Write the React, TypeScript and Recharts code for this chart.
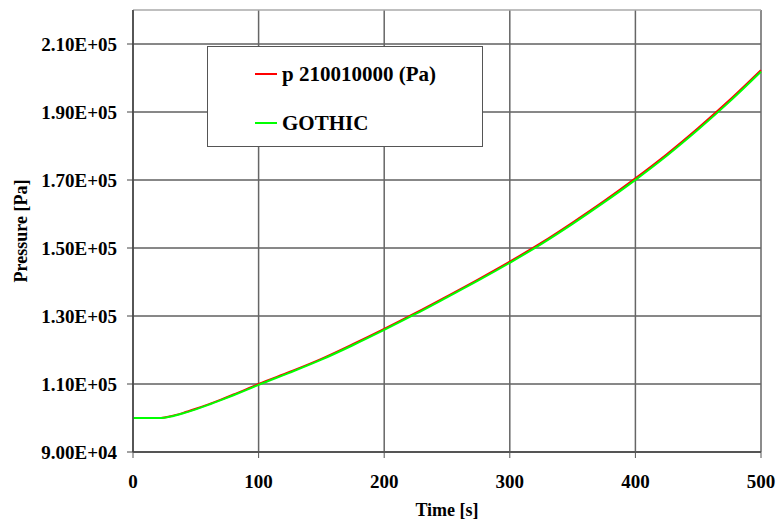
import { LineChart, Line, XAxis, YAxis, CartesianGrid, ReferenceLine } from 'recharts';

const FONT = '"Liberation Serif", "Times New Roman", serif';

// time [s]
const times = [0, 10, 20, 25, 30, 40, 50, 60, 70, 80, 90, 100, 125, 150, 175, 200, 225, 250, 275, 300, 325, 350, 375, 400, 425, 450, 475, 500];

// p 210010000 (Pa)
const pressureRef = [
  100000, 100000, 100000, 100150, 100500, 101500, 102700, 104000, 105400, 106900, 108400, 110000,
  113600, 117400, 121700, 126200, 130900, 135800, 140800, 146000, 151500, 157500, 163800, 170500,
  177600, 185300, 193500, 202300,
];

// GOTHIC
const pressureGothic = [
  100000, 100000, 99980, 100100, 100420, 101400, 102550, 103850, 105250, 106700, 108200, 109750,
  113350, 117150, 121400, 125900, 130600, 135500, 140450, 145650, 151150, 157100, 163400, 170050,
  177150, 184850, 193050, 201850,
];

const xTicks = [0, 100, 200, 300, 400, 500];
const yTicks = [90000, 110000, 130000, 150000, 170000, 190000, 210000];

const seriesNames = { p: 'p 210010000 (Pa)', g: 'GOTHIC' };

const data = times.map((t, i) => ({ t, p: pressureRef[i], g: pressureGothic[i] }));

const formatSci = (v: number) => {
  const [m, e] = v.toExponential(2).split('e');
  const sign = e[0];
  const digits = e.slice(1).padStart(2, '0');
  return `${m}E${sign}${digits}`;
};

const tickStyle = { fontFamily: FONT, fontWeight: 700, fontSize: 19, fill: '#000' };

// boxed legend sitting over the upper-left part of the plot
function LegendBox() {
  const items = [
    { name: seriesNames.p, color: '#ff0000' },
    { name: seriesNames.g, color: '#00ff00' },
  ];
  return (
    <div
      style={{
        position: 'absolute',
        left: 207,
        top: 46,
        width: 274,
        height: 99,
        border: '1px solid #555',
        background: '#fff',
        fontFamily: FONT,
        fontWeight: 700,
        fontSize: 21,
        color: '#000',
      }}
    >
      {items.map((it, i) => (
        <div
          key={it.name}
          style={{
            position: 'absolute',
            left: 47,
            top: i === 0 ? 14 : 63,
            height: 26,
            display: 'flex',
            alignItems: 'center',
            whiteSpace: 'nowrap',
          }}
        >
          <span style={{ display: 'inline-block', width: 22, height: 2, background: it.color, marginRight: 5 }} />
          <span>{it.name}</span>
        </div>
      ))}
    </div>
  );
}

export default function App() {
  return (
    <div style={{ position: 'absolute', left: 0, top: 0, width: 778, height: 526, background: '#fff' }}>
      <LineChart width={778} height={526} data={data} margin={{ top: 10, right: 17, bottom: 0, left: 0 }}>
        <CartesianGrid vertical={false} stroke="#111" strokeWidth={1} horizontalValues={yTicks} />
        <CartesianGrid horizontal={false} stroke="#666" strokeWidth={1.5} verticalValues={xTicks} />
        <ReferenceLine y={220000} stroke="#aaa" strokeWidth={1.5} />
        <XAxis
          dataKey="t"
          type="number"
          domain={[0, 500]}
          ticks={xTicks}
          height={74}
          tickSize={6}
          tickMargin={17}
          tick={tickStyle}
          axisLine={{ stroke: '#555', strokeWidth: 2 }}
          tickLine={{ stroke: '#555' }}
          label={{
            content: (props: any) => {
              const vb = props.viewBox;
              return (
                <text
                  x={vb.x + vb.width / 2}
                  y={vb.y + 64}
                  textAnchor="middle"
                  style={{ fontFamily: FONT, fontWeight: 700, fontSize: 18, fill: '#000' }}
                >
                  Time [s]
                </text>
              );
            },
          }}
        />
        <YAxis
          type="number"
          domain={[90000, 220000]}
          ticks={yTicks}
          width={133}
          tickSize={6}
          tickMargin={10}
          tick={tickStyle}
          tickFormatter={formatSci}
          axisLine={{ stroke: '#444', strokeWidth: 1.5 }}
          tickLine={{ stroke: '#444' }}
          label={{
            content: (props: any) => {
              const vb = props.viewBox;
              const cx = 21;
              const cy = vb.y + vb.height / 2;
              return (
                <text
                  x={cx}
                  y={cy}
                  textAnchor="middle"
                  dominantBaseline="central"
                  transform={`rotate(-90, ${cx}, ${cy})`}
                  style={{ fontFamily: FONT, fontWeight: 700, fontSize: 18, fill: '#000' }}
                >
                  Pressure [Pa]
                </text>
              );
            },
          }}
        />
        <Line
          type="monotone"
          dataKey="p"
          name={seriesNames.p}
          stroke="#ff0000"
          strokeWidth={2}
          dot={false}
          isAnimationActive={false}
        />
        <Line
          type="monotone"
          dataKey="g"
          name={seriesNames.g}
          stroke="#00ff00"
          strokeWidth={2}
          dot={false}
          isAnimationActive={false}
        />
      </LineChart>
      <LegendBox />
    </div>
  );
}
